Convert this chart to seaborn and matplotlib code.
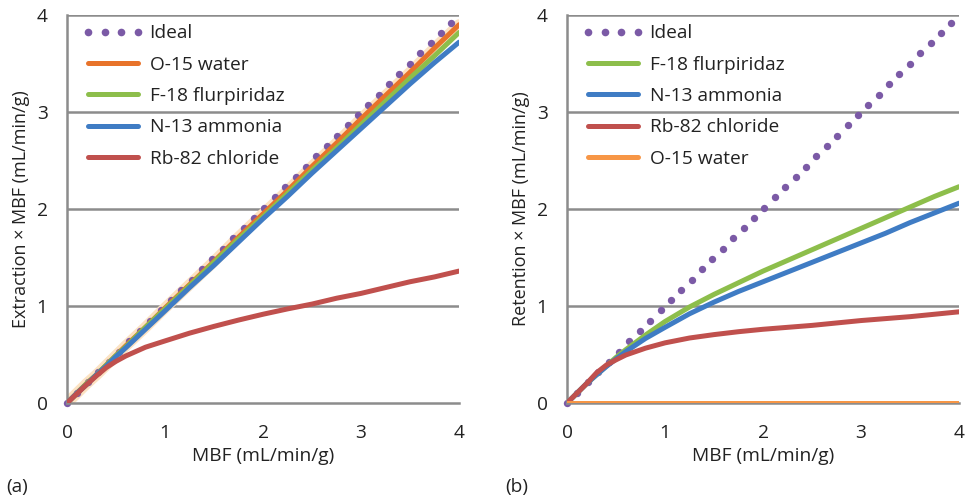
import numpy as np
import pandas as pd
import matplotlib
matplotlib.use("Agg")
import matplotlib.pyplot as plt
from matplotlib.lines import Line2D
import seaborn as sns

# ---- data -------------------------------------------------------------
mbf = [0, 0.1, 0.2, 0.3, 0.4, 0.5, 0.6, 0.8, 1.0, 1.25, 1.5, 1.75, 2.0,
       2.25, 2.5, 2.75, 3.0, 3.25, 3.5, 3.75, 4.0]

# identity line (dotted markers)
ideal_x = [round(0.106 * k, 3) for k in range(38)]
ideal_y = ideal_x

# (a) extraction x MBF
ext_o15 = [0, 0.10, 0.20, 0.29, 0.39, 0.49, 0.59, 0.78, 0.98, 1.22, 1.46,
           1.71, 1.95, 2.19, 2.44, 2.68, 2.93, 3.17, 3.41, 3.66, 3.90]
ext_f18 = [0, 0.10, 0.20, 0.29, 0.39, 0.49, 0.58, 0.78, 0.97, 1.21, 1.45,
           1.69, 1.92, 2.16, 2.40, 2.63, 2.87, 3.11, 3.35, 3.58, 3.82]
ext_n13 = [0, 0.10, 0.19, 0.29, 0.38, 0.48, 0.57, 0.76, 0.95, 1.19, 1.42,
           1.66, 1.90, 2.13, 2.37, 2.60, 2.83, 3.06, 3.29, 3.51, 3.72]
ext_rb82 = [0, 0.095, 0.19, 0.28, 0.365, 0.43, 0.485, 0.575, 0.64, 0.72,
            0.79, 0.855, 0.915, 0.97, 1.02, 1.08, 1.13, 1.19, 1.25, 1.30,
            1.36]

# (b) retention x MBF
ret_f18 = [0, 0.10, 0.20, 0.29, 0.38, 0.47, 0.55, 0.70, 0.84, 0.99, 1.12,
           1.24, 1.36, 1.47, 1.58, 1.69, 1.80, 1.91, 2.02, 2.13, 2.23]
ret_n13 = [0, 0.10, 0.20, 0.29, 0.375, 0.455, 0.53, 0.665, 0.78, 0.92,
           1.04, 1.15, 1.25, 1.35, 1.45, 1.55, 1.65, 1.75, 1.86, 1.96, 2.06]
ret_rb82 = [0, 0.10, 0.20, 0.31, 0.39, 0.445, 0.495, 0.565, 0.62, 0.67,
            0.705, 0.735, 0.76, 0.78, 0.80, 0.825, 0.85, 0.87, 0.89, 0.915,
            0.94]
ret_o15 = [0] * len(mbf)

ticks = [0, 1, 2, 3, 4]

# ---- style ------------------------------------------------------------
sns.set_style("white")
plt.rcParams["font.family"] = ["Open Sans", "DejaVu Sans"]

PURPLE = "#7B5AA6"
ORANGE_A = "#E8732A"
ORANGE_B = "#F79646"
GREEN = "#8DBE4B"
BLUE = "#3F7CC4"
RED = "#C0504D"
HALO = "#FCE2C2"
GRID = "#8C8C8C"
TXT = "#222222"
LW = 3.6
FS = 13.8

fig = plt.figure(figsize=(9.66, 4.98), dpi=100)
ax_a = fig.add_axes([0.0694, 0.1908, 0.4058, 0.779])
ax_b = fig.add_axes([0.587, 0.1908, 0.4058, 0.779])


def style_axes(ax, ylabel):
    ax.set_xlim(0, 4)
    ax.set_ylim(0, 4)
    ax.set_xticks(ticks)
    ax.set_yticks(ticks)
    ax.set_xticklabels([str(t) for t in ticks])
    ax.set_yticklabels([str(t) for t in ticks])
    for y in ticks[1:]:
        ax.axhline(y, color=GRID, lw=1.8, zorder=0.5)
    for s in ["top", "right"]:
        ax.spines[s].set_visible(False)
    for s in ["left", "bottom"]:
        ax.spines[s].set_color(GRID)
        ax.spines[s].set_linewidth(1.8)
    ax.tick_params(axis="both", direction="out", length=6, width=1.5,
                   color=GRID, labelsize=FS, labelcolor=TXT)
    ax.tick_params(axis="x", pad=9)
    ax.tick_params(axis="y", pad=8)
    ax.set_xlabel("MBF (mL/min/g)", fontsize=FS, color=TXT, labelpad=4)
    ax.set_ylabel(ylabel, fontsize=13, color=TXT, labelpad=5)


def line(ax, x, y, color, label, lw=LW, z=3):
    df = pd.DataFrame({"x": x, "y": y})
    sns.lineplot(data=df, x="x", y="y", ax=ax, color=color, lw=lw,
                 label=label, zorder=z, solid_capstyle="round",
                 legend=False)


def ideal(ax, z):
    df = pd.DataFrame({"x": ideal_x, "y": ideal_y})
    sns.scatterplot(data=df, x="x", y="y", ax=ax, color=PURPLE, s=28,
                    linewidth=0, zorder=z, legend=False, clip_on=False)


def make_legend(ax, entries):
    handles = []
    labels = []
    for lab, col, dotted in entries:
        if dotted:
            h = Line2D([], [], ls="", marker="o", ms=5.5, color=PURPLE,
                       markeredgewidth=0)
        else:
            h = Line2D([], [], color=col, lw=LW, solid_capstyle="round")
        handles.append(h)
        labels.append(lab)
    ax.legend(handles, labels, loc="upper left", frameon=False, fontsize=FS,
              numpoints=4, handlelength=3.2, handletextpad=0.3,
              labelspacing=0.70, borderaxespad=0.2,
              bbox_to_anchor=(0.01, 1.006), labelcolor=TXT)


# ---- panel (a) --------------------------------------------------------
line(ax_a, mbf, ext_o15, HALO, None, lw=8, z=1)
ideal(ax_a, 2)
line(ax_a, mbf, ext_o15, ORANGE_A, "O-15 water", z=3)
line(ax_a, mbf, ext_f18, GREEN, "F-18 flurpiridaz", z=3.1)
line(ax_a, mbf, ext_n13, BLUE, "N-13 ammonia", z=3.2)
line(ax_a, mbf, ext_rb82, RED, "Rb-82 chloride", z=3.3)
style_axes(ax_a, "Extraction \u00d7 MBF (mL/min/g)")
make_legend(ax_a, [("Ideal", PURPLE, True), ("O-15 water", ORANGE_A, False),
                   ("F-18 flurpiridaz", GREEN, False),
                   ("N-13 ammonia", BLUE, False),
                   ("Rb-82 chloride", RED, False)])

# ---- panel (b) --------------------------------------------------------
ideal(ax_b, 2)
line(ax_b, mbf, ret_f18, GREEN, "F-18 flurpiridaz", z=3)
line(ax_b, mbf, ret_n13, BLUE, "N-13 ammonia", z=3.1)
line(ax_b, mbf, ret_rb82, RED, "Rb-82 chloride", z=3.2)
line(ax_b, mbf, ret_o15, ORANGE_B, "O-15 water", z=3.3)
style_axes(ax_b, "Retention \u00d7 MBF (mL/min/g)")
make_legend(ax_b, [("Ideal", PURPLE, True), ("F-18 flurpiridaz", GREEN, False),
                   ("N-13 ammonia", BLUE, False),
                   ("Rb-82 chloride", RED, False),
                   ("O-15 water", ORANGE_B, False)])

fig.text(0.006, 0.012, "(a)", fontsize=FS, color=TXT)
fig.text(0.523, 0.012, "(b)", fontsize=FS, color=TXT)

fig.savefig("out.png", dpi=100)
